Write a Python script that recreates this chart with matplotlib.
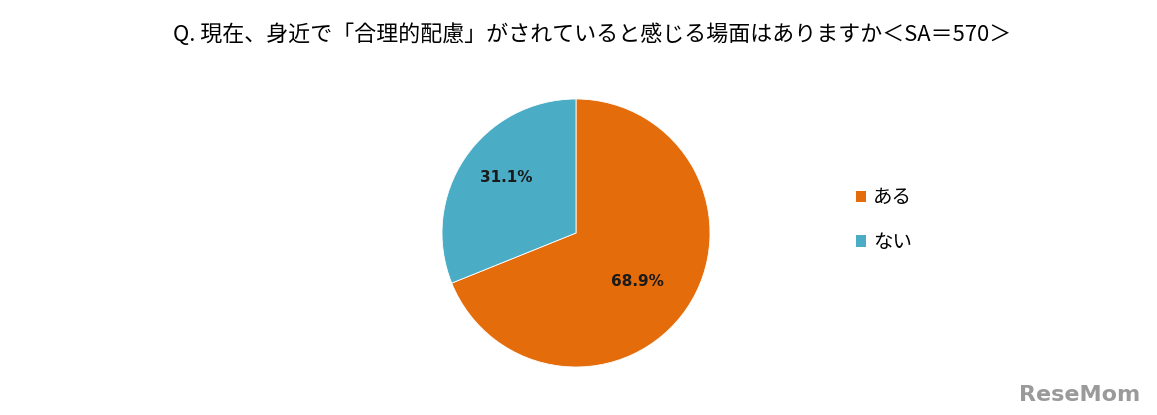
import matplotlib
matplotlib.use("Agg")
import matplotlib.pyplot as plt
from matplotlib.patches import Patch

plt.rcParams['font.family'] = ['Noto Sans CJK JP', 'DejaVu Sans']

labels = ['ある', 'ない']
values = [68.9, 31.1]
colors = ['#E46C0A', '#4BACC6']
title = 'Q. 現在、身近で「合理的配慮」がされていると感じる場面はありますか＜SA＝570＞'

W, H = 1157, 415
fig = plt.figure(figsize=(W/100, H/100), dpi=100)
cx, cy, r = 576, 233, 134
ax = fig.add_axes([(cx - r)/W, (H - cy - r)/H, 2*r/W, 2*r/H])
wedges, texts, autotexts = ax.pie(values, colors=colors, startangle=90, counterclock=False,
                                  autopct='%.1f%%', pctdistance=0.63, radius=1,
                                  wedgeprops=dict(edgecolor='white', linewidth=0.6),
                                  textprops=dict(fontsize=11, fontweight='bold', color='#1a1a1a',
                                                 family=['DejaVu Sans']))
# Excel-like label placement nudges
x0, y0 = autotexts[0].get_position()
autotexts[0].set_position((x0 - 0.06, y0 - 0.01))
x1, y1 = autotexts[1].get_position()
autotexts[1].set_position((x1 + 0.0, y1 + 0.06))
ax.set_xlim(-1, 1); ax.set_ylim(-1, 1)
ax.set_aspect('equal')
ax.axis('off')

fig.text(592/W, 1 - 35/H, title, ha='center', va='center', fontsize=15.8)

handles = [Patch(facecolor=c, edgecolor='none') for c in colors]
fig.legend(handles, labels, loc='center left', bbox_to_anchor=(838/W, 1 - 220/H),
           frameon=False, fontsize=14, handlelength=0.55, handleheight=0.55,
           handletextpad=0.35, labelspacing=1.2)

fig.text(1140/W, 1 - 395/H, 'ReseMom', ha='right', va='center', fontsize=16,
         fontweight='bold', color='#9a9a9a', family=['DejaVu Sans'])

fig.savefig('out.png', dpi=100)
